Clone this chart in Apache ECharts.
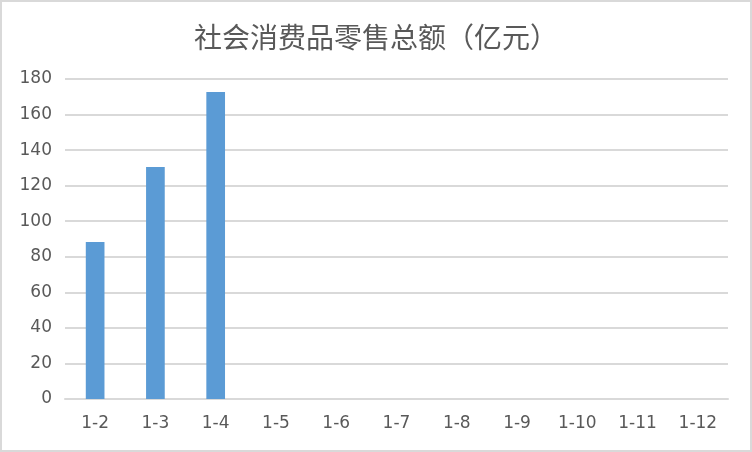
<!DOCTYPE html>
<html>
<head>
<meta charset="utf-8">
<script src="https://cdn.jsdelivr.net/npm/echarts@6/dist/echarts.min.js"></script>
<style>
html,body{margin:0;padding:0;background:#fff;}
#c{width:752px;height:452px;box-sizing:border-box;border:2px solid #d9d9d9;}
</style>
</head>
<body>
<div id="c"></div>
<script>
var titleText = '社会消费品零售总额（亿元）';
var categories = ['1-2','1-3','1-4','1-5','1-6','1-7','1-8','1-9','1-10','1-11','1-12'];
var values = [88.3, 130.5, 172.7, null, null, null, null, null, null, null, null];
var yTicks = {min: 0, max: 180, interval: 20};

var chart = echarts.init(document.getElementById('c'), null, {renderer: 'canvas'});
chart.setOption({
  animation: false,
  title: {
    text: titleText,
    left: 'center',
    top: 16,
    textStyle: {fontFamily: 'Noto Sans CJK SC', fontSize: 28, fontWeight: 'normal', color: '#595959'}
  },
  grid: {left: 63, right: 22, top: 77, bottom: 51, containLabel: false},
  xAxis: {
    type: 'category',
    data: categories,
    axisLine: {show: true, lineStyle: {color: '#d9d9d9', width: 2}},
    axisTick: {show: false},
    axisLabel: {color: '#595959', fontFamily: 'DejaVu Sans', fontSize: 17, margin: 16, interval: 0}
  },
  yAxis: {
    type: 'value',
    min: yTicks.min, max: yTicks.max, interval: yTicks.interval,
    axisLine: {show: false},
    axisTick: {show: false},
    axisLabel: {color: '#595959', fontFamily: 'DejaVu Sans', fontSize: 17, margin: 13},
    splitLine: {lineStyle: {color: '#d9d9d9', width: 2}}
  },
  series: [{
    type: 'bar',
    data: values,
    barWidth: '31%',
    itemStyle: {color: '#5b9bd5'}
  }]
});
</script>
</body>
</html>
